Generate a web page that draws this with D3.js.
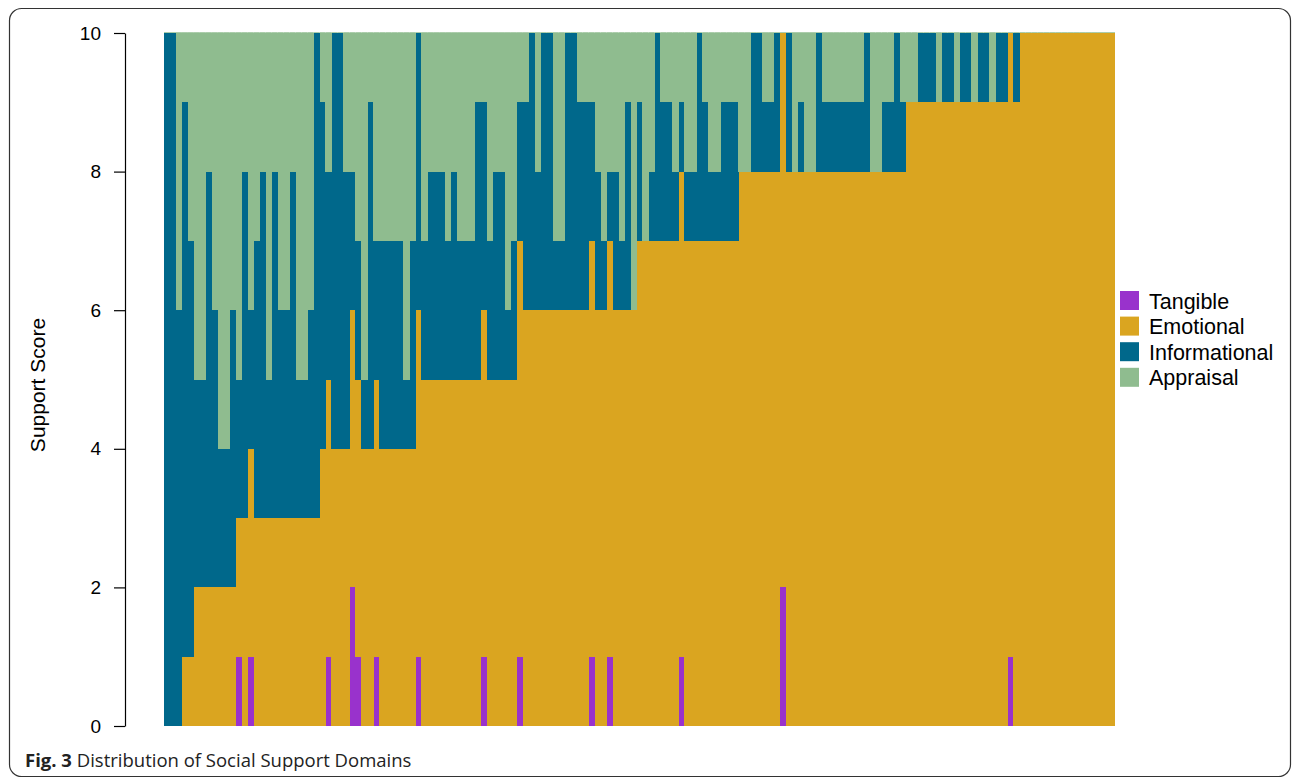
<!DOCTYPE html>
<html>
<head>
<meta charset="utf-8">
<script src="https://cdn.jsdelivr.net/npm/d3@7"></script>
<style>
  html, body { margin: 0; padding: 0; background: #fff; }
  svg { display: block; }
</style>
</head>
<body>
<svg id="chart" width="1292" height="780"></svg>
<script>
// Domain scores per participant (each row of the stack sums to the total support score)
const domains = ["Tangible", "Emotional", "Informational", "Appraisal"];
const colors = ["#9932CC", "#DAA520", "#00688B", "#8FBC8F"];
const yTicks = [0, 2, 4, 6, 8, 10];

const tangible = [
  0,0,0,0,0,0,0,0,0,0, 0,0,1,0,1,0,0,0,0,0,
  0,0,0,0,0,0,0,1,0,0, 0,2,1,0,0,1,0,0,0,0,
  0,0,1,0,0,0,0,0,0,0, 0,0,0,1,0,0,0,0,0,1,
  0,0,0,0,0,0,0,0,0,0, 0,1,0,0,1,0,0,0,0,0,
  0,0,0,0,0,0,1,0,0,0, 0,0,0,0,0,0,0,0,0,0,
  0,0,0,2,0,0,0,0,0,0, 0,0,0,0,0,0,0,0,0,0,
  0,0,0,0,0,0,0,0,0,0, 0,0,0,0,0,0,0,0,0,0,
  0,1,0,0,0,0,0,0,0,0, 0,0,0,0,0,0,0,0,0
];
const emotional = [
  0,0,0,1,1,2,2,2,2,2, 2,2,2,3,3,3,3,3,3,3,
  3,3,3,3,3,3,4,4,4,4, 4,4,4,4,4,4,4,4,4,4,
  4,4,5,5,5,5,5,5,5,5, 5,5,5,5,5,5,5,5,5,6,
  6,6,6,6,6,6,6,6,6,6, 6,6,6,6,6,6,6,6,6,7,
  7,7,7,7,7,7,7,7,7,7, 7,7,7,7,7,7,8,8,8,8,
  8,8,8,8,8,8,8,8,8,8, 8,8,8,8,8,8,8,8,8,8,
  8,8,8,8,9,9,9,9,9,9, 9,9,9,9,9,9,9,9,9,9,
  9,9,9,10,10,10,10,10,10,10, 10,10,10,10,10,10,10,10,10
];
const informational = [
  10,10,6,8,6,3,3,6,4,2, 2,4,2,5,2,4,5,2,5,3,
  3,5,2,2,3,7,5,3,6,6, 4,2,2,1,5,2,3,3,3,3,
  1,3,4,2,3,3,3,2,3,2, 2,2,4,3,2,3,3,1,2,2,
  3,4,2,4,4,1,1,4,4,3, 3,2,2,1,1,2,1,3,0,2,
  0,1,3,2,2,1,1,1,1,3, 2,1,1,2,2,2,0,0,2,2,
  1,1,2,0,2,0,1,0,0,2, 1,1,1,1,1,1,1,2,0,0,
  1,1,2,1,0,0,1,1,1,0, 1,1,0,1,1,0,1,1,0,1,
  1,0,1,0,0,0,0,0,0,0, 0,0,0,0,0,0,0,0,0
];
const appraisal = [
  0,0,4,1,3,5,5,2,4,6, 6,4,5,2,4,3,2,5,2,4,
  4,2,5,5,4,0,1,2,0,0, 2,2,3,5,1,3,3,3,3,3,
  5,3,0,3,2,2,2,3,2,3, 3,3,1,1,3,2,2,4,3,1,
  1,0,2,0,0,3,3,0,0,1, 1,1,2,3,2,2,3,1,4,1,
  3,2,0,1,1,2,1,2,2,0, 1,2,2,1,1,1,2,2,0,0,
  1,1,0,0,0,2,1,2,2,0, 1,1,1,1,1,1,1,0,2,2,
  1,1,0,1,1,1,0,0,0,1, 0,0,1,0,0,1,0,0,1,0,
  0,0,0,0,0,0,0,0,0,0, 0,0,0,0,0,0,0,0,0
];
const participants = tangible.map((_, i) => i + 1);

const rows = participants.map((id, i) => ({
  id,
  Tangible: tangible[i],
  Emotional: emotional[i],
  Informational: informational[i],
  Appraisal: appraisal[i]
}));

const svg = d3.select("#chart");
const plot = { left: 164, right: 1115, top: 33, bottom: 726 };
const sans = "'Liberation Sans', Arial, Helvetica, sans-serif";

const x = d3.scaleBand()
  .domain(participants)
  .range([plot.left, plot.right])
  .padding(0);

const y = d3.scaleLinear()
  .domain([0, 10])
  .range([plot.bottom, plot.top]);

const color = d3.scaleOrdinal().domain(domains).range(colors);

const stacked = d3.stack().keys(domains)(rows);

// Stacked bars, one column per participant
const layers = svg.append("g").attr("shape-rendering", "crispEdges");
layers.selectAll("g.layer")
  .data(stacked)
  .join("g")
  .attr("class", "layer")
  .attr("fill", d => color(d.key))
  .selectAll("rect")
  .data(d => d.filter(s => s[1] > s[0]))
  .join("rect")
  .attr("x", s => x(s.data.id))
  .attr("width", x.bandwidth() + 0.4)
  .attr("y", s => y(s[1]))
  .attr("height", s => y(s[0]) - y(s[1]));

// Outline left by the top (appraisal) segment along each column's total
svg.append("g")
  .selectAll("line")
  .data(stacked[stacked.length - 1])
  .join("line")
  .attr("x1", s => x(s.data.id))
  .attr("x2", s => x(s.data.id) + x.bandwidth())
  .attr("y1", s => y(s[1]) - 0.5)
  .attr("y2", s => y(s[1]) - 0.5)
  .attr("stroke", color("Appraisal"))
  .attr("stroke-width", 1)
  .attr("stroke-opacity", 0.75);

// Y axis
const yAxis = svg.append("g")
  .attr("transform", "translate(125,0)")
  .call(d3.axisLeft(y).tickValues(yTicks).tickSize(11).tickSizeOuter(0).tickPadding(13));
yAxis.select(".domain").attr("stroke", "#000").attr("stroke-width", 1.2);
yAxis.selectAll(".tick line").attr("stroke", "#000").attr("stroke-width", 1.2);
yAxis.selectAll(".tick text")
  .attr("font-family", sans)
  .attr("font-size", 19)
  .attr("fill", "#000");

svg.append("text")
  .attr("transform", "translate(45,385) rotate(-90)")
  .attr("text-anchor", "middle")
  .attr("font-family", sans)
  .attr("font-size", 21)
  .attr("fill", "#000")
  .text("Support Score");

// Legend
const legend = svg.append("g").attr("transform", "translate(1120,291)");
const item = legend.selectAll("g")
  .data(domains)
  .join("g")
  .attr("transform", (d, i) => `translate(0,${i * 25.6})`);
item.append("rect")
  .attr("width", 19)
  .attr("height", 19)
  .attr("fill", d => color(d));
item.append("text")
  .attr("x", 29)
  .attr("y", 17.5)
  .attr("font-family", sans)
  .attr("font-size", 21.5)
  .attr("fill", "#000")
  .text(d => d);

// Caption
const caption = svg.append("text")
  .attr("x", 25)
  .attr("y", 767)
  .attr("font-family", "'Open Sans', 'Noto Sans', sans-serif")
  .attr("font-size", 18.5)
  .attr("fill", "#222");
caption.append("tspan").attr("font-weight", "bold").text("Fig. 3");
caption.append("tspan").text(" Distribution of Social Support Domains");

// Figure frame
svg.append("rect")
  .attr("x", 9.5)
  .attr("y", 8.5)
  .attr("width", 1281)
  .attr("height", 768)
  .attr("rx", 12)
  .attr("fill", "none")
  .attr("stroke", "#333")
  .attr("stroke-width", 1.2);
</script>
</body>
</html>
